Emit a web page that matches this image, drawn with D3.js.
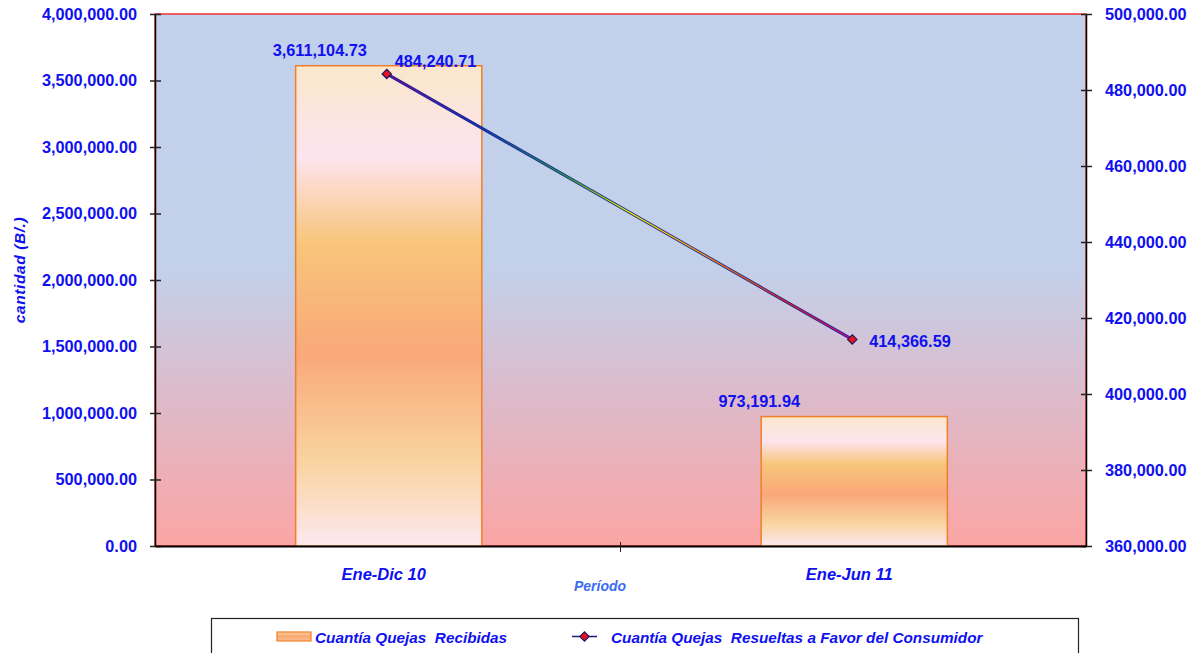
<!DOCTYPE html>
<html><head><meta charset="utf-8">
<script src="https://cdn.jsdelivr.net/npm/d3@7"></script>
<style>body{margin:0;background:#fff}svg{display:block}</style>
</head><body><svg id="c" width="1194" height="653"></svg>
<script>
const categories = ["Ene-Dic 10", "Ene-Jun 11"];
const recibidas = [3611104.73, 973191.94];
const resueltas = [484240.71, 414366.59];
const leftTicks = [0, 500000, 1000000, 1500000, 2000000, 2500000, 3000000, 3500000, 4000000];
const rightTicks = [360000, 380000, 400000, 420000, 440000, 460000, 480000, 500000];
const seriesNames = ["Cuantía Quejas  Recibidas", "Cuantía Quejas  Resueltas a Favor del Consumidor"];
const yTitle = "cantidad (B/.)";
const xTitle = "Período";

const svg = d3.select("#c");
const m = {l:155, r:1086, t:14, b:546};
const FONT = "'Liberation Sans', Arial, sans-serif";
const BLUE = "#1010f0";
const fmt = d3.format(",.2f");

const x = d3.scaleBand().domain(categories).range([m.l, m.r]).paddingInner(0).paddingOuter(0);
const yL = d3.scaleLinear().domain([0, 4000000]).range([m.b, m.t]);
const yR = d3.scaleLinear().domain([360000, 500000]).range([m.b, m.t]);

const defs = svg.append("defs");
const bg = defs.append("linearGradient").attr("id","bg").attr("x1",0).attr("y1",0).attr("x2",0).attr("y2",1);
[[0,"#c2d1ec"],[0.48,"#c3d0ea"],[0.75,"#e0b8c6"],[1,"#fba5a4"]].forEach(s=>bg.append("stop").attr("offset",s[0]).attr("stop-color",s[1]));
const bar = defs.append("linearGradient").attr("id","bar").attr("x1",0).attr("y1",0).attr("x2",0).attr("y2",1);
[[0,"#fbe7cb"],[0.19,"#fde4ef"],[0.37,"#f8c57a"],[0.6,"#f9a87a"],[0.82,"#f9d39e"],[1,"#fde8ef"]].forEach(s=>bar.append("stop").attr("offset",s[0]).attr("stop-color",s[1]));
const lg = defs.append("linearGradient").attr("id","lg").attr("gradientUnits","userSpaceOnUse")
  .attr("x1", x(categories[0])+x.bandwidth()/2).attr("x2", x(categories[1])+x.bandwidth()/2).attr("y1",0).attr("y2",0);
[[0,"#8000a0"],[0.2,"#1030c0"],[0.38,"#20a040"],[0.52,"#f0f000"],[0.68,"#f89020"],[0.85,"#e02020"],[1,"#c000a0"]].forEach(s=>lg.append("stop").attr("offset",s[0]).attr("stop-color",s[1]));
const sw = defs.append("linearGradient").attr("id","sw").attr("x1",0).attr("y1",0).attr("x2",0).attr("y2",1);
[[0,"#fbd0a0"],[0.5,"#f9a870"],[1,"#fbc090"]].forEach(s=>sw.append("stop").attr("offset",s[0]).attr("stop-color",s[1]));

// plot background
svg.append("rect").attr("x",m.l).attr("y",m.t).attr("width",m.r-m.l).attr("height",m.b-m.t)
  .attr("fill","url(#bg)").attr("stroke","#f03030").attr("stroke-width",1.5);

// bars
const bw = x.bandwidth()*0.4;
svg.selectAll(".bar").data(recibidas).enter().append("rect")
  .attr("x",(d,i)=>x(categories[i])+x.bandwidth()/2-bw/2+1)
  .attr("y",d=>yL(d)).attr("width",bw).attr("height",d=>yL(0)-yL(d))
  .attr("fill","url(#bar)").attr("stroke","#f08028").attr("stroke-width",1.5);

// bar labels
svg.selectAll(".bl").data(recibidas).enter().append("text")
  .attr("x",(d,i)=>x(categories[i])+x.bandwidth()/2-68-(i?26:0))
  .attr("y",d=>yL(d)-10)
  .attr("text-anchor","middle").attr("font-family",FONT).attr("font-weight","bold").attr("font-size",16.3)
  .attr("fill",BLUE).text(d=>fmt(d));

// axes
const axL = d3.axisLeft(yL).tickValues(leftTicks).tickFormat(fmt).tickSizeInner(5).tickSizeOuter(0);
const gL = svg.append("g").attr("transform",`translate(${m.l},0)`).call(axL);
gL.select(".domain").attr("stroke","#000").attr("stroke-width",1.5);
gL.selectAll(".tick line").attr("stroke","#222").attr("stroke-width",1.5).attr("x1",6).attr("x2",-5);
gL.selectAll(".tick text").attr("x",-18).attr("font-family",FONT).attr("font-weight","bold").attr("font-size",16.3).attr("fill",BLUE);

const axR = d3.axisRight(yR).tickValues(rightTicks).tickFormat(fmt).tickSizeInner(5).tickSizeOuter(0);
const gR = svg.append("g").attr("transform",`translate(${m.r},0)`).call(axR);
gR.select(".domain").attr("stroke","#000").attr("stroke-width",1.5);
gR.selectAll(".tick line").attr("stroke","#222").attr("stroke-width",1.5).attr("x1",-5).attr("x2",6);
gR.selectAll(".tick text").attr("x",19).attr("font-family",FONT).attr("font-weight","bold").attr("font-size",16.3).attr("fill",BLUE);

// x axis
const axX = d3.axisBottom(x).tickSize(0).tickPadding(22);
const gX = svg.append("g").attr("transform",`translate(0,${m.b})`).call(axX);
gX.select(".domain").attr("stroke","#000").attr("stroke-width",2);
gX.selectAll(".tick text").attr("dx",-4).attr("font-family",FONT).attr("font-weight","bold").attr("font-style","italic").attr("font-size",16.5).attr("fill",BLUE);
gX.append("line").attr("x1",x(categories[1])).attr("x2",x(categories[1])).attr("y1",-4).attr("y2",6).attr("stroke","#222").attr("stroke-width",1);

// line series
const pts = resueltas.map((v,i)=>[x(categories[i])+x.bandwidth()/2-1, yR(v)]);
svg.append("path").attr("d",d3.line()(pts)).attr("fill","none").attr("stroke","#1a2a8a").attr("stroke-width",3);
svg.append("path").attr("d",d3.line()(pts)).attr("fill","none").attr("stroke","url(#lg)").attr("stroke-width",1.3);
svg.selectAll(".mk").data(pts).enter().append("path")
  .attr("d",d3.symbol(d3.symbolDiamond2,55)()).attr("transform",d=>`translate(${d[0]},${d[1]})`)
  .attr("fill","#ee1020").attr("stroke","#1a1a60").attr("stroke-width",1.2);
const off = [[8,-7],[17,8]];
svg.selectAll(".pl").data(resueltas).enter().append("text")
  .attr("x",(d,i)=>pts[i][0]+off[i][0]).attr("y",(d,i)=>pts[i][1]+off[i][1])
  .attr("font-family",FONT).attr("font-weight","bold").attr("font-size",16.3).attr("fill",BLUE).text(d=>fmt(d));

// titles
svg.append("text").attr("transform","translate(25,270) rotate(-90)").attr("text-anchor","middle")
  .attr("font-family",FONT).attr("font-weight","bold").attr("font-style","italic").attr("font-size",15.5).attr("letter-spacing",0.6).attr("fill",BLUE).text(yTitle);
svg.append("text").attr("x",600).attr("y",591).attr("text-anchor","middle")
  .attr("font-family",FONT).attr("font-weight","bold").attr("font-style","italic").attr("font-size",14).attr("fill","#3a6cf0").text(xTitle);

// legend
svg.append("rect").attr("x",211.5).attr("y",618.5).attr("width",867).attr("height",60).attr("fill","#fff").attr("stroke","#222").attr("stroke-width",1.2);
svg.append("rect").attr("x",277).attr("y",632).attr("width",34).attr("height",9).attr("fill","url(#sw)").attr("stroke","#f08028").attr("stroke-width",1.2);
svg.append("text").attr("x",315).attr("y",643).attr("font-family",FONT).attr("font-weight","bold").attr("font-style","italic").attr("font-size",15.3).attr("fill",BLUE).attr("xml:space","preserve").text(seriesNames[0]);
svg.append("line").attr("x1",572).attr("x2",597).attr("y1",636.5).attr("y2",636.5).attr("stroke","#1a1a80").attr("stroke-width",1.5);
svg.append("path").attr("d",d3.symbol(d3.symbolDiamond2,55)()).attr("transform","translate(584.5,636.5)").attr("fill","#ee1020").attr("stroke","#1a1a60").attr("stroke-width",1.2);
svg.append("text").attr("x",611).attr("y",643).attr("font-family",FONT).attr("font-weight","bold").attr("font-style","italic").attr("font-size",15.3).attr("fill",BLUE).attr("xml:space","preserve").text(seriesNames[1]);
</script></body></html>
